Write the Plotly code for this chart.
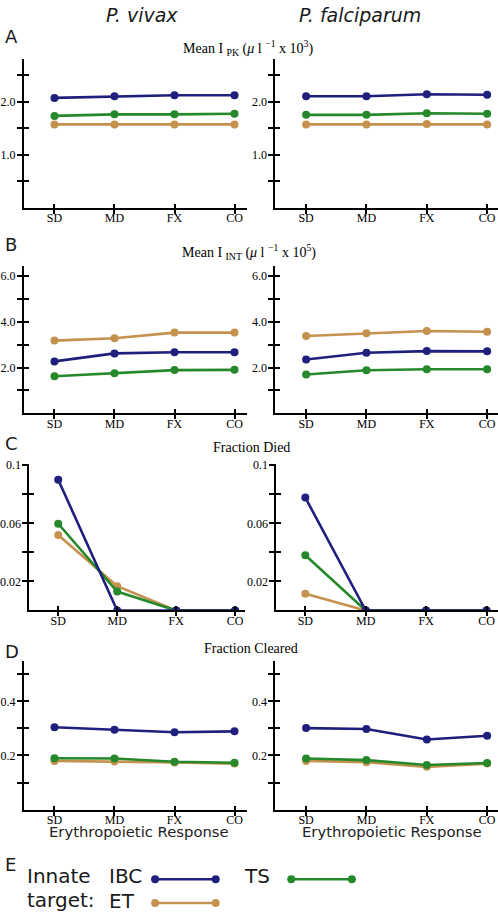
import plotly.graph_objects as go

W, H = 498, 912

categories = ["SD", "MD", "FX", "CO"]
targets = ["ET", "TS", "IBC"]  # drawing order (IBC on top)
colors = {"IBC": "#1f1f7d", "ET": "#c4914f", "TS": "#25882a"}

# Panel A: Mean I_PK (x10^3)
pk_vivax_ibc = [2.07, 2.10, 2.12, 2.12]
pk_vivax_ts = [1.73, 1.76, 1.76, 1.77]
pk_vivax_et = [1.57, 1.57, 1.57, 1.57]
pk_falc_ibc = [2.10, 2.10, 2.14, 2.13]
pk_falc_ts = [1.75, 1.75, 1.78, 1.77]
pk_falc_et = [1.57, 1.57, 1.58, 1.57]

# Panel B: Mean I_INT (x10^5)
int_vivax_ibc = [2.27, 2.62, 2.67, 2.67]
int_vivax_ts = [1.62, 1.75, 1.89, 1.90]
int_vivax_et = [3.18, 3.28, 3.53, 3.53]
int_falc_ibc = [2.35, 2.65, 2.72, 2.71]
int_falc_ts = [1.70, 1.88, 1.93, 1.93]
int_falc_et = [3.38, 3.50, 3.60, 3.57]

# Panel C: Fraction Died
died_vivax_ibc = [0.090, 0.0, 0.0, 0.0]
died_vivax_ts = [0.0597, 0.013, 0.0, 0.0]
died_vivax_et = [0.052, 0.0167, 0.0, 0.0]
died_falc_ibc = [0.0777, 0.0, 0.0, 0.0]
died_falc_ts = [0.038, 0.0, 0.0, 0.0]
died_falc_et = [0.0115, 0.0, 0.0, 0.0]

# Panel D: Fraction Cleared
clr_vivax_ibc = [0.304, 0.295, 0.286, 0.289]
clr_vivax_ts = [0.190, 0.189, 0.177, 0.173]
clr_vivax_et = [0.180, 0.178, 0.174, 0.170]
clr_falc_ibc = [0.301, 0.298, 0.259, 0.273]
clr_falc_ts = [0.189, 0.183, 0.165, 0.172]
clr_falc_et = [0.180, 0.175, 0.158, 0.170]

# y tick values / labels per row
a_ticks = [0.5, 1.0, 1.5, 2.0, 2.5]
a_labels = ["", "1.0", "", "2.0", ""]
b_ticks = [1, 2, 3, 4, 5, 6]
b_labels = ["", "2.0", "", "4.0", "", "6.0"]
c_ticks = [0.02, 0.04, 0.06, 0.08, 0.1]
c_labels = ["0.02", "", "0.06", "", "0.1"]
d_ticks = [0.1, 0.2, 0.3, 0.4, 0.5]
d_labels = ["", "0.2", "", "0.4", ""]

def px_x(v):
    return v / W

def px_y(v):
    return 1 - v / H

# panel layout: (series, y range, ticks, labels, x-domain px, y-domain px, x range)
panels = [
    ({"IBC": pk_vivax_ibc, "TS": pk_vivax_ts, "ET": pk_vivax_et}, [0, 2.81], a_ticks, a_labels, (21, 245), (53, 203), [-0.51, 3.2]),
    ({"IBC": pk_falc_ibc, "TS": pk_falc_ts, "ET": pk_falc_et}, [0, 2.81], a_ticks, a_labels, (274, 498), (53, 203), [-0.51, 3.18]),
    ({"IBC": int_vivax_ibc, "TS": int_vivax_ts, "ET": int_vivax_et}, [0, 6.43], b_ticks, b_labels, (21, 245), (262, 410), [-0.51, 3.2]),
    ({"IBC": int_falc_ibc, "TS": int_falc_ts, "ET": int_falc_et}, [0, 6.43], b_ticks, b_labels, (274, 498), (262, 410), [-0.51, 3.18]),
    ({"IBC": died_vivax_ibc, "TS": died_vivax_ts, "ET": died_vivax_et}, [0, 0.1005], c_ticks, c_labels, (26.5, 243), (461.5, 608.5), [-0.49, 3.16]),
    ({"IBC": died_falc_ibc, "TS": died_falc_ts, "ET": died_falc_et}, [0, 0.1005], c_ticks, c_labels, (275, 498), (461.5, 608.5), [-0.48, 3.19]),
    ({"IBC": clr_vivax_ibc, "TS": clr_vivax_ts, "ET": clr_vivax_et}, [0, 0.55], d_ticks, d_labels, (21, 245), (659, 809), [-0.51, 3.2]),
    ({"IBC": clr_falc_ibc, "TS": clr_falc_ts, "ET": clr_falc_et}, [0, 0.55], d_ticks, d_labels, (274, 498), (659, 809), [-0.51, 3.18]),
]

fig = go.Figure()
tickfont = dict(family="Liberation Serif, Times New Roman, serif", size=12, color="black")
layout_axes = {}
n = len(panels)

def axname(i):
    return "" if i == 1 else str(i)

for idx, (series, yr, tv, tt, xd, yd, xr) in enumerate(panels):
    k = idx + 1
    ko = k + n
    xa, ya = "x" + axname(k), "y" + axname(k)
    xo, yo = "x" + str(ko), "y" + str(ko)
    for t in targets:
        fig.add_trace(go.Scatter(
            x=categories, y=series[t], xaxis=xa, yaxis=ya, mode="lines+markers",
            line=dict(color=colors[t], width=2.6), marker=dict(color=colors[t], size=8),
            showlegend=False, hoverinfo="skip"))
    # invisible trace to activate the overlay (inside tick) axes
    fig.add_trace(go.Scatter(x=categories, y=series["IBC"], xaxis=xo, yaxis=yo,
                             mode="lines", opacity=0, showlegend=False, hoverinfo="skip"))
    dom_x = [px_x(xd[0]), px_x(xd[1])]
    dom_y = [px_y(yd[1]), px_y(yd[0])]
    common_x = dict(type="category", categoryorder="array", categoryarray=categories,
                    range=xr, showgrid=False, zeroline=False, tickcolor="black",
                    tickwidth=1.6, ticklen=4)
    common_y = dict(range=yr, showgrid=False, zeroline=False, tickmode="array",
                    tickvals=tv, tickcolor="black", tickwidth=1.6, ticklen=5)
    layout_axes["xaxis" + axname(k)] = dict(common_x, domain=dom_x, anchor=ya, showline=True,
                                            linecolor="black", linewidth=2, ticks="outside",
                                            tickfont=tickfont, ticklabelstandoff=-6)
    layout_axes["yaxis" + axname(k)] = dict(common_y, domain=dom_y, anchor=xa, showline=True,
                                            linecolor="black", linewidth=2, ticks="outside",
                                            ticktext=tt, tickfont=tickfont, ticklabelstandoff=-1)
    layout_axes["xaxis" + str(ko)] = dict(common_x, overlaying=xa, anchor=yo, ticks="inside",
                                          showticklabels=False, showline=False)
    layout_axes["yaxis" + str(ko)] = dict(common_y, overlaying=ya, anchor=xo, ticks="inside",
                                          showticklabels=False, showline=False)

fig.update_layout(**layout_axes)

serif = "Liberation Serif, Times New Roman, serif"
sans = "DejaVu Sans, sans-serif"
ann = []

def add_text(text, x, y, size, family, xanchor="center", color="#1a1a1a"):
    # small shift to align the visual glyph centre with the target pixel
    y_adj = y - 0.12 * size
    x_adj = x - 3 if xanchor == "left" else x
    ann.append(dict(text=text, x=px_x(x_adj), y=px_y(y_adj), xref="paper", yref="paper",
                    xanchor=xanchor, yanchor="middle", showarrow=False,
                    font=dict(size=size, family=family, color=color)))

add_text("<i>P. vivax</i>", 140, 11, 19, sans)
add_text("<i>P. falciparum</i>", 359, 11, 19, sans)
for letter, yy in [("A", 32.5), ("B", 242), ("C", 443), ("D", 652), ("E", 866)]:
    add_text(letter, 3, yy, 18, sans, xanchor="left")
add_text("Mean I <sub>PK</sub> (<i>μ</i> l <sup>−1</sup> x 10<sup>3</sup>)", 247, 44, 14, serif, color="black")
add_text("Mean I <sub>INT</sub> (<i>μ</i> l <sup>−1</sup> x 10<sup>5</sup>)", 247, 249, 14, serif, color="black")
add_text("Fraction Died", 250, 446, 14, serif, color="black")
add_text("Fraction Cleared", 250, 648, 14, serif, color="black")
add_text("Erythropoietic Response", 137, 833, 14.8, sans, color="#222")
add_text("Erythropoietic Response", 391, 833, 14.8, sans, color="#222")

# legend (manual)
add_text("Innate", 25, 878, 20, sans, xanchor="left")
add_text("target:", 25, 902, 20, sans, xanchor="left")
legend_items = [("IBC", 108, 878, 153, 214), ("ET", 108, 903, 153, 214), ("TS", 243, 878, 290, 351)]
line_y = {"IBC": 879, "ET": 903, "TS": 879}
shapes = []
for name, tx, ty, lx0, lx1 in legend_items:
    add_text(name, tx, ty, 20, sans, xanchor="left")
    c = colors[name]
    ly = line_y[name]
    shapes.append(dict(type="line", xref="paper", yref="paper", x0=px_x(lx0), x1=px_x(lx1),
                       y0=px_y(ly), y1=px_y(ly), line=dict(color=c, width=2.6)))
    for lx in (lx0, lx1):
        shapes.append(dict(type="circle", xref="paper", yref="paper", xsizemode="pixel",
                           ysizemode="pixel", xanchor=px_x(lx), yanchor=px_y(ly),
                           x0=-4, x1=4, y0=-4, y1=4, fillcolor=c, line=dict(color=c, width=0)))

fig.update_layout(width=W, height=H, margin=dict(l=0, r=0, t=0, b=0),
                  paper_bgcolor="white", plot_bgcolor="white",
                  annotations=ann, shapes=shapes, showlegend=False)

fig.write_html("out.html", config={"displayModeBar": False},
               post_script="document.body.style.margin='0';document.body.style.padding='0';")
